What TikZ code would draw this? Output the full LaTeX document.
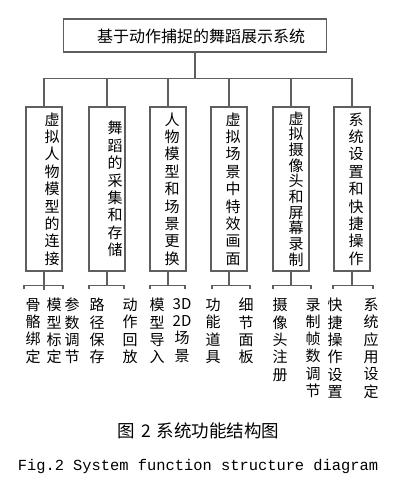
\documentclass[tikz,border=0pt]{standalone}
\usepackage{fontspec}
\newfontfamily\cjk{Noto Sans CJK SC}
\setmonofont{Liberation Mono}
\usetikzlibrary{positioning}
\definecolor{frame}{RGB}{95,95,95}

\begin{document}
\begin{tikzpicture}[x=1pt, y=-1pt,
  topbox/.style={rectangle, draw=frame, line width=1.4pt, minimum width=263pt,
                 minimum height=33pt, inner sep=0pt},
  modbox/.style={rectangle, draw=frame, line width=1.4pt, minimum width=36pt,
                 minimum height=164pt, inner sep=0pt},
  leaf/.style={anchor=north, align=center, inner sep=0pt,
               font=\cjk\fontsize{15}{17.3}\selectfont},
  link/.style={draw=frame, line width=1.4pt}
]
  \useasboundingbox (0,0) rectangle (400,481);

  % ── ROOT ──
  \node[topbox] (root) at (195,35.5) {};
  \node[inner sep=0pt, font=\cjk\fontsize{16}{16}\selectfont] (rootlbl) at (201,36)
    {基于动作捕捉的舞蹈展示系统};
  \draw[link] (root.south) -- ++(0,26) coordinate (bar);

  % ── MODULES ──
  \foreach \i/\x/\dx/\ls/\txt in {
      1/44/8/17.4/{虚\\拟\\人\\物\\模\\型\\的\\连\\接},
      2/107/8/17.4/{舞\\蹈\\的\\采\\集\\和\\存\\储},
      3/168/4/17.4/{人\\物\\模\\型\\和\\场\\景\\更\\换},
      4/229/4/17.4/{虚\\拟\\场\\景\\中\\特\\效\\画\\面},
      5/291/5/15.7/{虚\\拟\\摄\\像\\头\\和\\屏\\幕\\录\\制},
      6/352/4/17.4/{系\\统\\设\\置\\和\\快\\捷\\操\\作}} {
    \node[modbox] (m\i) at (\x,189) {};
    \node[align=center, inner sep=0pt, font=\cjk\fontsize{15}{\ls}\selectfont]
      (t\i) at ([xshift=\dx pt]m\i.center) {\txt};
    \draw[link] (bar) -| (m\i.north);
  }

  % brackets under the modules
  \foreach \i/\l/\r in {1/24/63, 2/89/124, 3/150/185, 4/212/250, 5/273/311, 6/333/373} {
    \draw[link] (m\i.south) -- ++(0,14) coordinate (j\i);
    \coordinate (l\i) at (\l,289);
    \coordinate (r\i) at (\r,289);
    \draw[link] (l\i) |- (j\i) -| (r\i);
  }
  \draw[link] (j1) -- ++(0,4);

  % ── LEAVES ──
  \foreach \k/\x/\txt in {
      1/33/{骨\\骼\\绑\\定}, 2/54/{模\\型\\标\\定}, 3/72/{参\\数\\调\\节},
      4/97/{路\\径\\保\\存}, 5/130/{动\\作\\回\\放},
      6/157/{模\\型\\导\\入}, 7/182/{3D\\2D\\场\\景},
      8/213/{功\\能\\道\\具}, 9/246/{细\\节\\面\\板},
      10/280/{摄\\像\\头\\注\\册}, 11/313/{录\\制\\帧\\数\\调\\节},
      12/335/{快\\捷\\操\\作\\设\\置}, 13/371/{系\\统\\应\\用\\设\\定}} {
    \node[leaf] (n\k) at (\x,298) {\txt};
  }

  % ── CAPTION ──
  \node[inner sep=0pt, font=\cjk\fontsize{17.5}{17.5}\selectfont] (cap) at (198.5,431)
    {图\hspace{6pt}2\hspace{6pt}系统功能结构图};
  \node[inner sep=0pt, font=\ttfamily\fontsize{15.4}{15.4}\selectfont] (capen) at (198,467)
    {Fig.2 System function structure diagram};
\end{tikzpicture}
\end{document}
